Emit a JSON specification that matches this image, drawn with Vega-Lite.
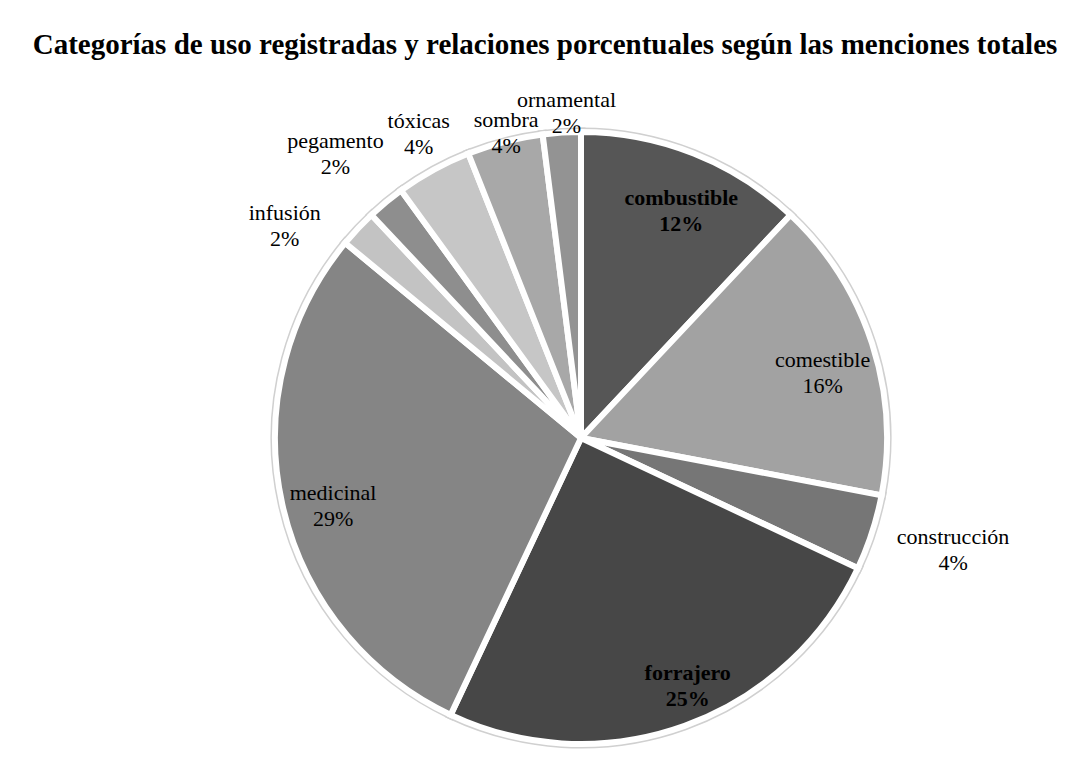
{
  "$schema": "https://vega.github.io/schema/vega-lite/v6.json",
  "width": 640,
  "height": 636,
  "autosize": {"type": "none"},
  "padding": {"left": 261, "top": 120, "right": 172, "bottom": 4},
  "background": "white",
  "config": {"view": {"stroke": null}, "font": "Liberation Serif"},
  "title": {
    "text": "Categorías de uso registradas y relaciones porcentuales según las menciones totales",
    "font": "Liberation Serif",
    "fontSize": 29,
    "fontWeight": "bold",
    "color": "black",
    "anchor": "middle",
    "frame": "group",
    "dx": -36,
    "offset": -40
  },
  "data": {
    "values": [
      {"orden": 1, "category": "combustible", "value": 12},
      {"orden": 2, "category": "comestible", "value": 16},
      {"orden": 3, "category": "construcción", "value": 4},
      {"orden": 4, "category": "forrajero", "value": 25},
      {"orden": 5, "category": "medicinal", "value": 29},
      {"orden": 6, "category": "infusión", "value": 2},
      {"orden": 7, "category": "pegamento", "value": 2},
      {"orden": 8, "category": "tóxicas", "value": 4},
      {"orden": 9, "category": "sombra", "value": 4},
      {"orden": 10, "category": "ornamental", "value": 2}
    ]
  },
  "transform": [
    {"calculate": "datum.category + '\\n' + datum.value + '%'", "as": "label"}
  ],
  "encoding": {
    "theta": {"field": "value", "type": "quantitative", "stack": true},
    "order": {"field": "orden", "type": "quantitative"},
    "color": {
      "field": "category",
      "type": "nominal",
      "legend": null,
      "scale": {
        "domain": ["combustible", "comestible", "construcción", "forrajero", "medicinal", "infusión", "pegamento", "tóxicas", "sombra", "ornamental"],
        "range": ["#565656", "#a2a2a2", "#767676", "#474747", "#858585", "#c3c3c3", "#8e8e8e", "#c6c6c6", "#a8a8a8", "#939393"]
      }
    }
  },
  "layer": [
    {"mark": {"type": "arc", "outerRadius": 306, "stroke": "#d0d0d0", "strokeWidth": 9}},
    {"mark": {"type": "arc", "outerRadius": 306, "stroke": "white", "strokeWidth": 6}},
    {
      "mark": {"type": "text", "radius": 256, "dx": 6, "dy": -2, "fontSize": 22, "fontWeight": "bold", "lineBreak": "\n", "lineHeight": 26, "baseline": "middle"},
      "encoding": {"text": {"condition": {"test": "datum.category === 'combustible'", "field": "label"}, "value": ""}, "color": {"value": "black"}}
    },
    {
      "mark": {"type": "text", "radius": 256, "dx": 20, "dy": -6, "fontSize": 22, "fontWeight": "bold", "lineBreak": "\n", "lineHeight": 26, "baseline": "middle"},
      "encoding": {"text": {"condition": {"test": "datum.category === 'forrajero'", "field": "label"}, "value": ""}, "color": {"value": "black"}}
    },
    {
      "mark": {"type": "text", "radius": 254, "fontSize": 22, "lineBreak": "\n", "lineHeight": 26, "baseline": "middle"},
      "encoding": {"text": {"condition": {"test": "indexof(['comestible','medicinal'], datum.category) >= 0", "field": "label"}, "value": ""}, "color": {"value": "black"}}
    },
    {
      "mark": {"type": "text", "radius": 387, "dx": 4, "dy": -21, "fontSize": 22, "lineBreak": "\n", "lineHeight": 26, "baseline": "middle"},
      "encoding": {"text": {"condition": {"test": "datum.category === 'construcción'", "field": "label"}, "value": ""}, "color": {"value": "black"}}
    },
    {
      "mark": {"type": "text", "radius": 368, "dx": -28, "dy": 27, "fontSize": 22, "lineBreak": "\n", "lineHeight": 26, "baseline": "middle"},
      "encoding": {"text": {"condition": {"test": "datum.category === 'infusión'", "field": "label"}, "value": ""}, "color": {"value": "black"}}
    },
    {
      "mark": {"type": "text", "radius": 368, "dx": -11, "dy": -13, "fontSize": 22, "lineBreak": "\n", "lineHeight": 26, "baseline": "middle"},
      "encoding": {"text": {"condition": {"test": "datum.category === 'pegamento'", "field": "label"}, "value": ""}, "color": {"value": "black"}}
    },
    {
      "mark": {"type": "text", "radius": 343, "dx": 3, "dy": -16, "fontSize": 22, "lineBreak": "\n", "lineHeight": 26, "baseline": "middle"},
      "encoding": {"text": {"condition": {"test": "datum.category === 'tóxicas'", "field": "label"}, "value": ""}, "color": {"value": "black"}}
    },
    {
      "mark": {"type": "text", "radius": 317, "dx": 4, "dy": -11, "fontSize": 22, "lineBreak": "\n", "lineHeight": 26, "baseline": "middle"},
      "encoding": {"text": {"condition": {"test": "datum.category === 'sombra'", "field": "label"}, "value": ""}, "color": {"value": "black"}}
    },
    {
      "mark": {"type": "text", "radius": 326, "dx": 6, "dy": -13, "fontSize": 22, "lineBreak": "\n", "lineHeight": 26, "baseline": "middle"},
      "encoding": {"text": {"condition": {"test": "datum.category === 'ornamental'", "field": "label"}, "value": ""}, "color": {"value": "black"}}
    }
  ]
}
